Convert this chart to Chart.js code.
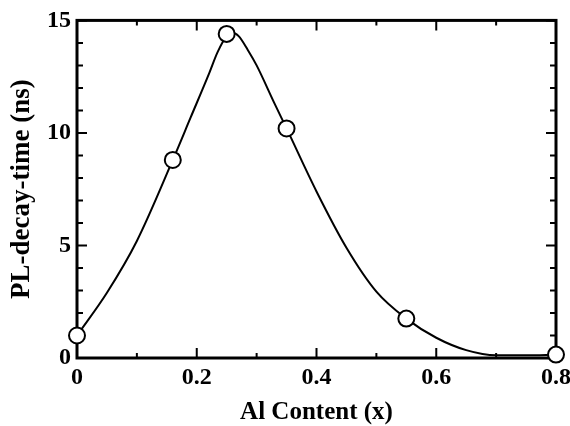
<!DOCTYPE html>
<html>
<head>
<meta charset="utf-8">
<script src="https://cdn.jsdelivr.net/npm/chart.js@4"></script>
<style>
  html, body { margin: 0; padding: 0; background: #fff; }
  #wrap { width: 570px; height: 426px; }
</style>
</head>
<body>
<div id="wrap"><canvas id="myChart"></canvas></div>
<script>
// measured points: Al content (x) and PL decay time (ns)
const alContent = [0, 0.16, 0.25, 0.35, 0.55, 0.8];
const decayTime = [1.0, 8.8, 14.4, 10.2, 1.75, 0.15];
// guide curve
const fitX = [0, 0.05, 0.10, 0.16, 0.19, 0.22, 0.235, 0.25, 0.26, 0.27, 0.285, 0.30, 0.33, 0.35, 0.40, 0.45, 0.50, 0.55, 0.60, 0.65, 0.70, 0.75, 0.80];
const fitY = [1.0, 2.9, 5.2, 8.8, 10.7, 12.6, 13.6, 14.3, 14.45, 14.3, 13.7, 13.0, 11.3, 10.2, 7.4, 4.9, 2.95, 1.75, 0.9, 0.35, 0.12, 0.12, 0.15];
const xTicks = [0, 0.2, 0.4, 0.6, 0.8];
const yTicks = [0, 5, 10, 15];

const FONT = "'Liberation Serif', 'Times New Roman', serif";

// inward ticks and frame drawn on the library's scales
const framePlugin = {
    id: 'frame',
    beforeDatasetsDraw(chart) {
        const {ctx, chartArea: a, scales: {x, y}} = chart;
        ctx.save();
        ctx.strokeStyle = '#000';
        ctx.lineWidth = 2;
        for (let v = 0; v <= 8; v++) {
            const px = x.getPixelForValue(v / 10);
            const len = v % 2 === 0 ? 10 : 5;
            ctx.beginPath();
            ctx.moveTo(px, a.bottom); ctx.lineTo(px, a.bottom - len);
            ctx.moveTo(px, a.top); ctx.lineTo(px, a.top + len);
            ctx.stroke();
        }
        for (let v = 0; v <= 15; v++) {
            const py = y.getPixelForValue(v);
            const len = v % 5 === 0 ? 10 : 6;
            ctx.beginPath();
            ctx.moveTo(a.left, py); ctx.lineTo(a.left + len, py);
            ctx.moveTo(a.right, py); ctx.lineTo(a.right - len, py);
            ctx.stroke();
        }
        ctx.lineWidth = 3;
        ctx.strokeRect(a.left, a.top, a.right - a.left, a.bottom - a.top);
        ctx.restore();
    }
};

new Chart(document.getElementById('myChart'), {
    type: 'line',
    data: {
        datasets: [{
            data: alContent.map((v, i) => ({x: v, y: decayTime[i]})),
            showLine: false,
            pointRadius: 8,
            pointBorderWidth: 2,
            pointBackgroundColor: '#fff',
            pointBorderColor: '#000',
            clip: false
        }, {
            data: fitX.map((v, i) => ({x: v, y: fitY[i]})),
            borderColor: '#000',
            borderWidth: 2,
            cubicInterpolationMode: 'monotone',
            pointRadius: 0,
            clip: false
        }]
    },
    options: {
        responsive: true,
        maintainAspectRatio: false,
        animation: false,
        events: [],
        layout: {padding: {top: 18, right: 14, left: 0, bottom: 0}},
        plugins: {legend: {display: false}, tooltip: {enabled: false}},
        scales: {
            x: {
                type: 'linear',
                min: 0, max: 0.8,
                afterBuildTicks: s => { s.ticks = xTicks.map(v => ({value: v})); },
                afterFit: s => { s.height = 68; s.paddingLeft = 0; s.paddingRight = 0; },
                grid: {display: false, drawTicks: false},
                border: {display: false},
                ticks: {color: '#000', padding: 5, maxRotation: 0, font: {family: FONT, size: 24, weight: 'bold'}},
                title: {display: true, text: 'Al Content (x)', color: '#000', padding: {top: 0, bottom: 0},
                        font: {family: FONT, size: 25, weight: 'bold', lineHeight: 1.1}}
            },
            y: {
                min: 0, max: 15,
                afterBuildTicks: s => { s.ticks = yTicks.map(v => ({value: v})); },
                afterFit: s => { s.width = 77; },
                grid: {display: false, drawTicks: false},
                border: {display: false},
                ticks: {color: '#000', padding: 6, font: {family: FONT, size: 24, weight: 'bold'}},
                title: {display: true, text: 'PL-decay-time (ns)', color: '#000', padding: {top: 6, bottom: 0},
                        font: {family: FONT, size: 27, weight: 'bold'}}
            }
        }
    },
    plugins: [framePlugin]
});
</script>
</body>
</html>
